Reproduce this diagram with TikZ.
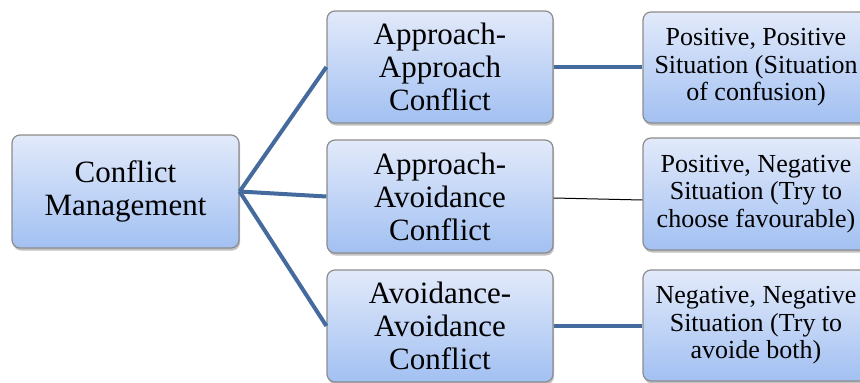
\documentclass[tikz,border=0pt]{standalone}
\usepackage{fontspec}
\setmainfont{Liberation Serif}
\usetikzlibrary{shadows}
\definecolor{linkblue}{RGB}{68,106,158}
\definecolor{boxtop}{RGB}{226,234,250}
\definecolor{boxbot}{RGB}{162,192,242}
\definecolor{boxline}{RGB}{140,140,140}
\tikzset{
  box/.style={draw=boxline, line width=1.2pt, rounded corners=8pt,
    top color=boxtop, bottom color=boxbot, align=center, inner sep=0pt,
    drop shadow={shadow xshift=1pt, shadow yshift=-2.5pt, opacity=0.35, fill=black!70}},
  bigtext/.style={font=\fontsize{31}{33}\selectfont},
  smalltext/.style={font=\fontsize{26}{27.5}\selectfont},
  thick link/.style={draw=linkblue, line width=4pt},
  thin link/.style={draw=black, line width=1pt}
}
\begin{document}
\begin{tikzpicture}[x=1pt,y=-1pt]
\useasboundingbox (0,0) rectangle (860,383);
\clip (0,0) rectangle (860,383);
\node[box, bigtext, minimum width=227pt, minimum height=113pt] (L) at (125.5,191.5) {Conflict\\Management};
\node[box, bigtext, minimum width=226pt, minimum height=112pt] (M1) at (440,67) {Approach-\\Approach\\Conflict};
\node[box, bigtext, minimum width=226pt, minimum height=113pt] (M2) at (440,196.5) {Approach-\\Avoidance\\Conflict};
\node[box, bigtext, minimum width=226pt, minimum height=112pt] (M3) at (440,326) {Avoidance-\\Avoidance\\Conflict};
\node[box, smalltext, minimum width=226pt, minimum height=111pt] (R1) at (756,67.5) {Positive, Positive\\Situation (Situation\\of confusion)};
\node[box, smalltext, minimum width=226pt, minimum height=112pt] (R2) at (756,194) {Positive, Negative\\Situation (Try to\\choose favourable)};
\node[box, smalltext, minimum width=226pt, minimum height=111pt] (R3) at (756,325.5) {Negative, Negative\\Situation (Try to\\avoide both)};
\coordinate (hub) at (L.east);
\draw[thick link] (hub) -- (M1.west);
\draw[thick link] (hub) -- (M2.west);
\draw[thick link] (hub) -- (M3.west);
\draw[thick link] (M1.east) -- (R1.west |- M1.east);
\draw[thin link] ([yshift=-1.5pt]M2.east) -- ([yshift=-6pt]R2.west);
\draw[thick link] (M3.east) -- (R3.west |- M3.east);
\end{tikzpicture}
\end{document}
